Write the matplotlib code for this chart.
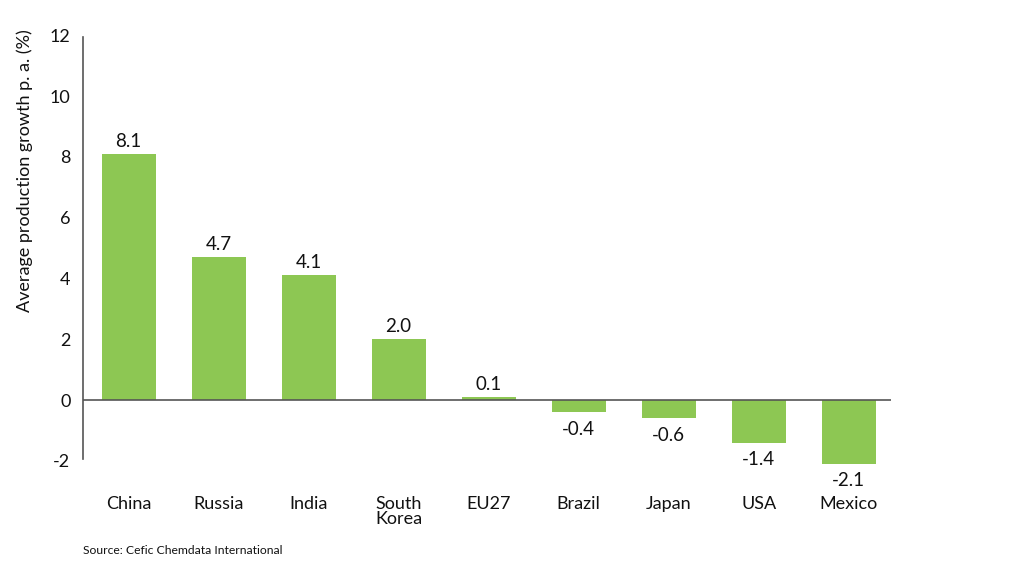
import matplotlib
matplotlib.use("Agg")
import matplotlib.pyplot as plt
from matplotlib.transforms import ScaledTranslation

categories = ["China", "Russia", "India", "South\nKorea", "EU27", "Brazil", "Japan", "USA", "Mexico"]
values = [8.1, 4.7, 4.1, 2.0, 0.1, -0.4, -0.6, -1.4, -2.1]
yticks = [-2, 0, 2, 4, 6, 8, 10, 12]

plt.rcParams['font.family'] = ['Lato', 'DejaVu Sans']
txt = '#111111'
green = '#8dc753'

top_px, bot_px = 35.2, 466.9
fig = plt.figure(figsize=(10.24, 5.65), dpi=100)
ax = fig.add_axes([83/1024, 1 - bot_px/565, (891-83)/1024, (bot_px-top_px)/565])
x = list(range(len(categories)))
ax.bar(x, values, width=0.6, color=green, zorder=2)
ax.set_xlim(-0.506, 8.47)
ax.set_ylim(-2.2, 12)
ax.axhline(0, color='#555555', lw=1.2, zorder=3)
for s in ['top', 'right', 'bottom']:
    ax.spines[s].set_visible(False)
ax.spines['left'].set_color('#555555')
ax.spines['left'].set_linewidth(1.2)
ax.spines['left'].set_bounds(-1.95, 11.95)
ax.set_yticks(yticks)
ax.set_yticklabels([str(t) for t in yticks], fontsize=13, color=txt)
shift = ScaledTranslation(0, 2.5/100, fig.dpi_scale_trans)
for lab in ax.get_yticklabels():
    lab.set_transform(lab.get_transform() + shift)
ax.set_xticks(x)
ax.set_xticklabels(categories, fontsize=13, color=txt, linespacing=0.95, va='top')
ax.tick_params(axis='x', length=0, pad=21)
ax.tick_params(axis='y', length=0, pad=9)
for xi, v in zip(x, values):
    if v >= 0:
        ax.annotate(f"{v:.1f}", (xi, v), xytext=(0, 3), textcoords='offset points',
                    ha='center', va='bottom', fontsize=13.5, color=txt)
    else:
        ax.annotate(f"{v:.1f}", (xi, v), xytext=(0, -6), textcoords='offset points',
                    ha='center', va='top', fontsize=13.5, color=txt, annotation_clip=False)

fig.text(25/1024, 1 - 171/565, "Average production growth p. a. (%)", rotation=90,
         ha='center', va='center', fontsize=13, color=txt)
fig.text(83/1024, 1 - 551/565, "Source: Cefic Chemdata International", ha='left',
         va='center', fontsize=8.7, color=txt)
fig.savefig("out.png", dpi=100)
